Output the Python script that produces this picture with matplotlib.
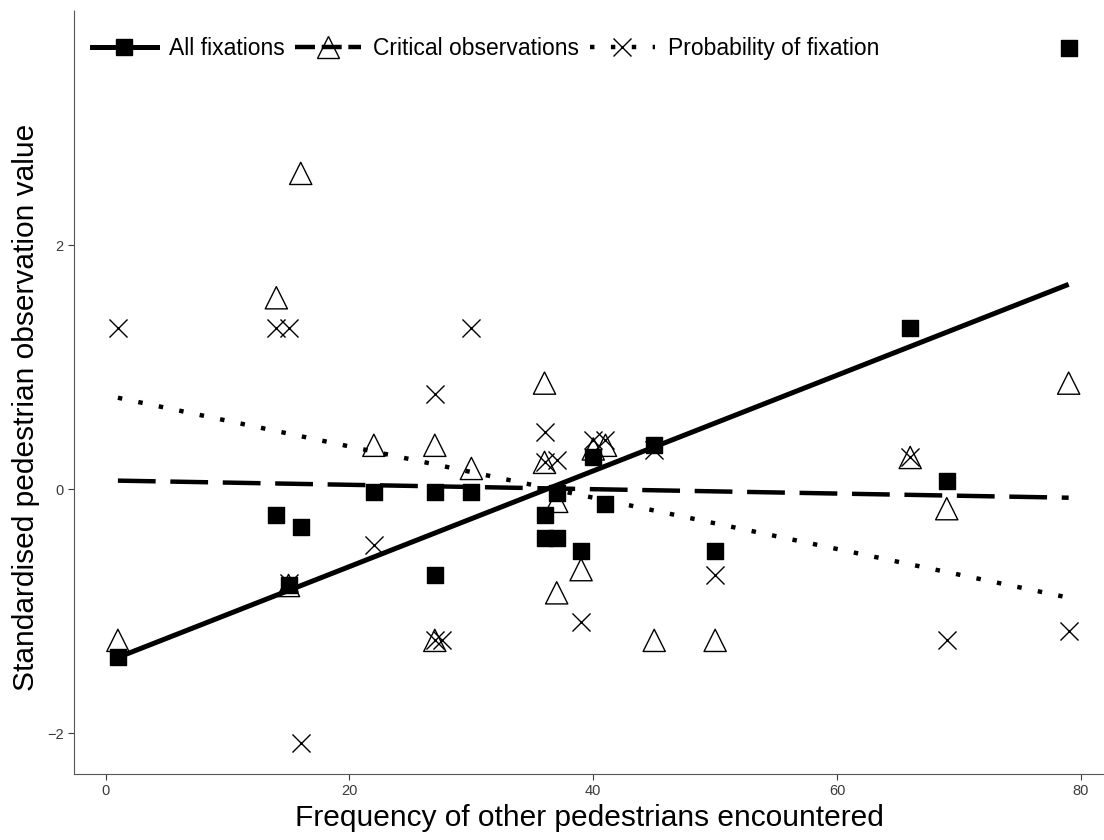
import matplotlib
matplotlib.use("Agg")
import matplotlib.pyplot as plt
from matplotlib.lines import Line2D

plt.rcParams['font.family'] = ['Liberation Sans', 'DejaVu Sans']

# frequency of other pedestrians encountered, per series
fix_freq = [1, 14, 15, 16, 22, 27, 27, 30, 36, 36, 37, 37, 39, 40, 41, 45, 50, 66, 69, 79]
fix_vals = [-1.38, -0.21, -0.79, -0.31, -0.02, -0.02, -0.70, -0.02, -0.21, -0.40,
            -0.40, -0.03, -0.51, 0.26, -0.12, 0.36, -0.51, 1.32, 0.07, 3.62]

crit_freq = [1, 14, 15, 16, 22, 27, 27, 30, 36, 36, 37, 37, 39, 40, 41, 45, 50, 66, 69, 79]
crit_vals = [-1.24, 1.57, -0.79, 2.59, 0.36, 0.36, -1.24, 0.17, 0.87, 0.22,
             -0.10, -0.85, -0.66, 0.33, 0.36, -1.24, -1.24, 0.26, -0.16, 0.87]

prob_freq = [1, 14, 15, 15, 16, 22, 27, 27, 27.6, 30, 36, 36, 37, 39, 40, 41, 45, 50, 66, 69, 79]
prob_vals = [1.32, 1.32, 1.32, -0.77, -2.08, -0.46, 0.78, -1.24, -1.24, 1.32,
             0.47, 0.22, 0.24, -1.09, 0.40, 0.40, 0.32, -0.70, 0.26, -1.24, -1.16]

# fitted trend lines (end points)
fit_freq = [1, 79]
fix_fit = [-1.38, 1.68]
crit_fit = [0.07, -0.07]
prob_fit = [0.75, -0.89]

fig = plt.figure(figsize=(11.04, 8.4), dpi=100)
ax = fig.add_axes([74 / 1104, 66 / 840, 1 - 74 / 1104, 764 / 840])

lw = 3.2
ax.scatter(crit_freq, crit_vals, marker='^', s=16 ** 2, facecolors='none',
           edgecolors='black', linewidths=1.0, zorder=2)
ax.scatter(prob_freq, prob_vals, marker='x', s=13 ** 2, color='black',
           linewidths=1.0, zorder=2)
ax.scatter(fix_freq, fix_vals, marker='s', s=12 ** 2, color='black', zorder=3)

ax.plot(fit_freq, fix_fit, color='black', lw=lw + 0.4, solid_capstyle='butt', zorder=4)
ax.plot(fit_freq, crit_fit, color='black', lw=lw, dashes=(8.5, 3.3),
        dash_capstyle='butt', zorder=4)
ax.plot(fit_freq, prob_fit, color='black', lw=lw, dashes=(1.0, 3.7),
        dash_capstyle='butt', zorder=4)

ax.set_xlim(-2.6, 81.9)
ax.set_ylim(-2.336, 3.93)
ax.set_xticks([0, 20, 40, 60, 80])
ax.set_yticks([-2, 0, 2])
ax.tick_params(labelsize=10.5, colors='#3a3a3a', length=4, width=0.8)

for side in ['top', 'right']:
    ax.spines[side].set_visible(False)
for side in ['left', 'bottom']:
    ax.spines[side].set_linestyle((0, (1, 1)))
    ax.spines[side].set_color('#555555')
    ax.spines[side].set_linewidth(0.8)

ax.set_xlabel('Frequency of other pedestrians encountered', fontsize=21.5, labelpad=4)
ax.set_ylabel('Standardised pedestrian observation value', fontsize=21.5)
ax.yaxis.set_label_coords(-0.033, 0.48)

handles = [
    Line2D([], [], color='black', lw=lw + 0.4, marker='s', markersize=12),
    Line2D([], [], color='black', lw=lw, dashes=(4.5, 1.5), marker='^',
           markersize=16, markerfacecolor='none', markeredgewidth=1.0),
    Line2D([], [], color='black', lw=lw, dashes=(1.0, 3.7), marker='x',
           markersize=13, markeredgewidth=1.0),
]
labels = ['All fixations', 'Critical observations', 'Probability of fixation']
ax.legend(handles, labels, loc='center left', bbox_to_anchor=(0.017, 0.95),
          ncol=3, frameon=False, fontsize=16.5, handlelength=2.85,
          handletextpad=0.55, columnspacing=0.45, borderpad=0, borderaxespad=0)

fig.savefig('out.png', dpi=100)
